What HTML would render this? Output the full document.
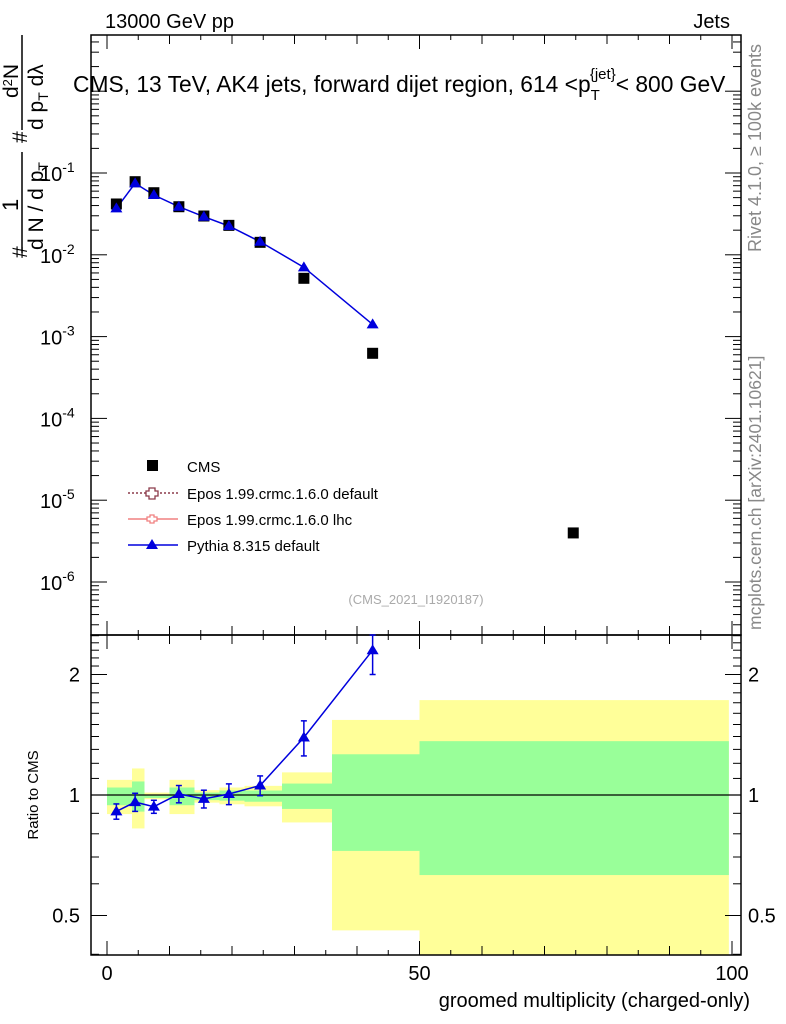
<!DOCTYPE html>
<html><head><meta charset="utf-8"><style>
body{margin:0;background:#fff;}
svg{display:block;font-family:"Liberation Sans",sans-serif;}
</style></head><body>
<svg id="c" width="786" height="1024" viewBox="0 0 786 1024" xmlns="http://www.w3.org/2000/svg">
<text x="105" y="28" font-size="20">13000 GeV pp</text>
<text x="730" y="28" font-size="20" text-anchor="end">Jets</text>
<text x="73" y="92" font-size="22.8">CMS, 13 TeV, AK4 jets, forward dijet region, 614 &lt;p<tspan dy="8" font-size="15">T</tspan><tspan dy="-21" dx="-10" font-size="15">{jet}</tspan><tspan dy="13">&lt; 800 GeV</tspan></text>
<g transform="rotate(-90)" font-size="21">
<text x="-258" y="27">#</text>
<text x="-211" y="18" font-size="22">1</text>
<line x1="-253" y1="22" x2="-152" y2="22" stroke="#000" stroke-width="1.5"/>
<text x="-250" y="43">d N / d p<tspan font-size="14" dy="5">T</tspan></text>
<text x="-143" y="27">#</text>
<text x="-98" y="18">d<tspan font-size="13" dy="-6">2</tspan><tspan dy="6">N</tspan></text>
<line x1="-130" y1="22" x2="-35" y2="22" stroke="#000" stroke-width="1.5"/>
<text x="-130" y="43">d p<tspan font-size="14" dy="5">T</tspan><tspan dy="-5"> dλ</tspan></text>
</g>
<text transform="translate(761,252) rotate(-90)" font-size="18" fill="#888">Rivet 4.1.0, ≥ 100k events</text>
<text transform="translate(761,630) rotate(-90)" font-size="17.5" fill="#888">mcplots.cern.ch [arXiv:2401.10621]</text>
<text transform="translate(38,795) rotate(-90)" font-size="15" text-anchor="middle">Ratio to CMS</text>
<text x="750" y="1007" font-size="20" text-anchor="end">groomed multiplicity (charged-only)</text>
<text x="416" y="604" font-size="13" fill="#aaa" text-anchor="middle">(CMS_2021_I1920187)</text>
<g id="bands"></g><g id="axes"></g><g id="marks"></g>
<g font-size="15">
<rect x="147" y="460" width="11" height="11" fill="#000"/>
<text x="187" y="472">CMS</text>
<line x1="128" y1="493" x2="178" y2="493" stroke="#8b3a4a" stroke-dasharray="2,2" stroke-width="1.5"/>
<path d="M149 488h6v3h3v5h-3v3h-6v-3h-3v-5h3z" fill="#fff" stroke="#8b3a4a" stroke-width="1.3"/>
<text x="187" y="499">Epos 1.99.crmc.1.6.0 default</text>
<line x1="128" y1="519" x2="178" y2="519" stroke="#f08080" stroke-width="1.5"/>
<path d="M150 515h4v2h3v4h-3v2h-4v-2h-3v-4h3z" fill="#fff" stroke="#f08080" stroke-width="1.3"/>
<text x="187" y="525">Epos 1.99.crmc.1.6.0 lhc</text>
<line x1="128" y1="545" x2="178" y2="545" stroke="#0000dd" stroke-width="1.5"/>
<path d="M152 539l6 10h-12z" fill="#0000dd"/>
<text x="187" y="551">Pythia 8.315 default</text>
</g>
</svg>
<script>
const binEdges=[0,4,6,10,14,18,22,28,36,50,99.5];
const cmsX=[1.5,4.5,7.5,11.5,15.5,19.5,24.5,31.5,42.5,74.6];
const cmsY=[0.0418,0.0783,0.0574,0.0387,0.0298,0.0229,0.0142,0.00516,0.000625,0.00000398];
const pyX=[1.5,4.5,7.5,11.5,15.5,19.5,24.5,31.5,42.5];
const pyY=[0.037,0.0748,0.0538,0.0387,0.0292,0.0225,0.01445,0.00703,0.00141];
const pyRatio=[0.91,0.96,0.935,1.006,0.978,1.006,1.056,1.392,2.3];
const pyRatioErr=[0.04,0.05,0.035,0.05,0.05,0.06,0.06,0.14,0.3];
const yelHi=[1.091,1.165,1.014,1.091,1.028,1.044,1.054,1.139,1.54,1.726];
const yelLo=[0.896,0.825,0.976,0.896,0.957,0.948,0.937,0.854,0.459,0.35];
const grnHi=[1.044,1.081,1.003,1.044,1.014,1.026,1.026,1.068,1.264,1.363];
const grnLo=[0.943,0.909,0.983,0.943,0.971,0.968,0.962,0.923,0.725,0.631];
const yTickExp=[-1,-2,-3,-4,-5,-6];
const rTicks=[0.5,1,2];
const xTicks=[0,50,100];

const NS="http://www.w3.org/2000/svg";
const L=91,R=741,T=35,M=635,B=955;
const X=v=>107+v*6.25;
const Y=v=>173-(Math.log10(v)+1)*81.8;
const RY=v=>795-Math.log2(v)*120.5;
function mk(parent,tag,attrs){const e=document.createElementNS(NS,tag);for(const k in attrs)e.setAttribute(k,attrs[k]);document.getElementById(parent).appendChild(e);return e;}

for(let i=0;i<binEdges.length-1;i++){
 const x0=X(binEdges[i]),x1=Math.min(X(binEdges[i+1]),R);
 const yt=Math.max(RY(yelHi[i]),M),yb=Math.min(RY(yelLo[i]),B);
 let e=mk('bands','rect',{x:x0,y:yt,width:x1-x0,height:yb-yt,fill:'#ffff99'});
 
 
 const gt=RY(grnHi[i]),gb=RY(grnLo[i]);
 e=mk('bands','rect',{x:x0,y:gt,width:x1-x0,height:gb-gt,fill:'#99ff99'});
 
 
}
let f=mk('axes','rect',{x:L,y:T,width:R-L,height:M-T,fill:'none',stroke:'#000','stroke-width':1.5});


f=mk('axes','rect',{x:L,y:M,width:R-L,height:B-M,fill:'none',stroke:'#000','stroke-width':1.5});


let ln=mk('axes','line',{x1:L,x2:R,y1:RY(1),y2:RY(1),stroke:'#000','stroke-width':1.3});


for(let v=0;v<=100;v+=5){
 const len=v%50===0?14:(v%10===0?9:5);
 for(const [y0,dir] of [[M,-1],[B,-1],[T,1],[M,1]]){
  mk('axes','line',{x1:X(v),x2:X(v),y1:y0,y2:y0+dir*len,stroke:'#000','stroke-width':1});
 }
}
xTicks.forEach(v=>{const t=mk('axes','text',{x:X(v),y:980,'font-size':20,'text-anchor':'middle'});t.textContent=v;
 
 });
for(let e=-7;e<=0;e++){for(let m=1;m<10;m++){const y=Y(m*Math.pow(10,e));if(y<T||y>M)continue;const len=m===1?16:8;
 mk('axes','line',{x1:L,x2:L+len,y1:y,y2:y,stroke:'#000'});mk('axes','line',{x1:R,x2:R-len,y1:y,y2:y,stroke:'#000'});}}
yTickExp.forEach(e=>{const t=mk('axes','text',{x:40,y:Y(Math.pow(10,e))+8,'font-size':20,'text-anchor':'start'});
 t.innerHTML='10<tspan dy="-9" font-size="14">'+e+'</tspan>';
 
 });
for(let v=0.4;v<2.55;v+=0.1){const r=Math.round(v*10)/10;const y=RY(r);if(y<M||y>B)continue;const len=(r===0.5||r===1||r===2)?16:8;
 mk('axes','line',{x1:L,x2:L+len,y1:y,y2:y,stroke:'#000'});mk('axes','line',{x1:R,x2:R-len,y1:y,y2:y,stroke:'#000'});}
rTicks.forEach(v=>{for(const [x,a] of [[80,'end'],[748,'start']]){const t=mk('axes','text',{x:x,y:RY(v)+7,'font-size':20,'text-anchor':a});t.textContent=v;
 
 }});
let p=mk('marks','polyline',{points:pyX.map((x,i)=>X(x)+','+Y(pyY[i])).join(' '),fill:'none',stroke:'#0000dd','stroke-width':1.5});


cmsX.forEach((x,i)=>{const r=mk('marks','rect',{x:X(x)-5.5,y:Y(cmsY[i])-5.5,width:11,height:11,fill:'#000'});
 
 });
const tri=(x,y)=>`M${x} ${y-6}l6 10h-12z`;
pyX.forEach((x,i)=>{const t=mk('marks','path',{d:tri(X(x),Y(pyY[i])),fill:'#0000dd'});
 
 });
p=mk('marks','polyline',{points:pyX.map((x,i)=>X(x)+','+RY(pyRatio[i])).join(' '),fill:'none',stroke:'#0000dd','stroke-width':1.5});


pyX.forEach((x,i)=>{const cx=X(x),y1=Math.max(RY(pyRatio[i]+pyRatioErr[i]),M),y2=RY(pyRatio[i]-pyRatioErr[i]);
 mk('marks','line',{x1:cx,x2:cx,y1:y1,y2:y2,stroke:'#0000dd','stroke-width':1.5});
 mk('marks','line',{x1:cx-3,x2:cx+3,y1:y1,y2:y1,stroke:'#0000dd','stroke-width':1.5});
 mk('marks','line',{x1:cx-3,x2:cx+3,y1:y2,y2:y2,stroke:'#0000dd','stroke-width':1.5});
 const t=mk('marks','path',{d:tri(cx,RY(pyRatio[i])),fill:'#0000dd'});
 
 });
</script>
</body></html>
